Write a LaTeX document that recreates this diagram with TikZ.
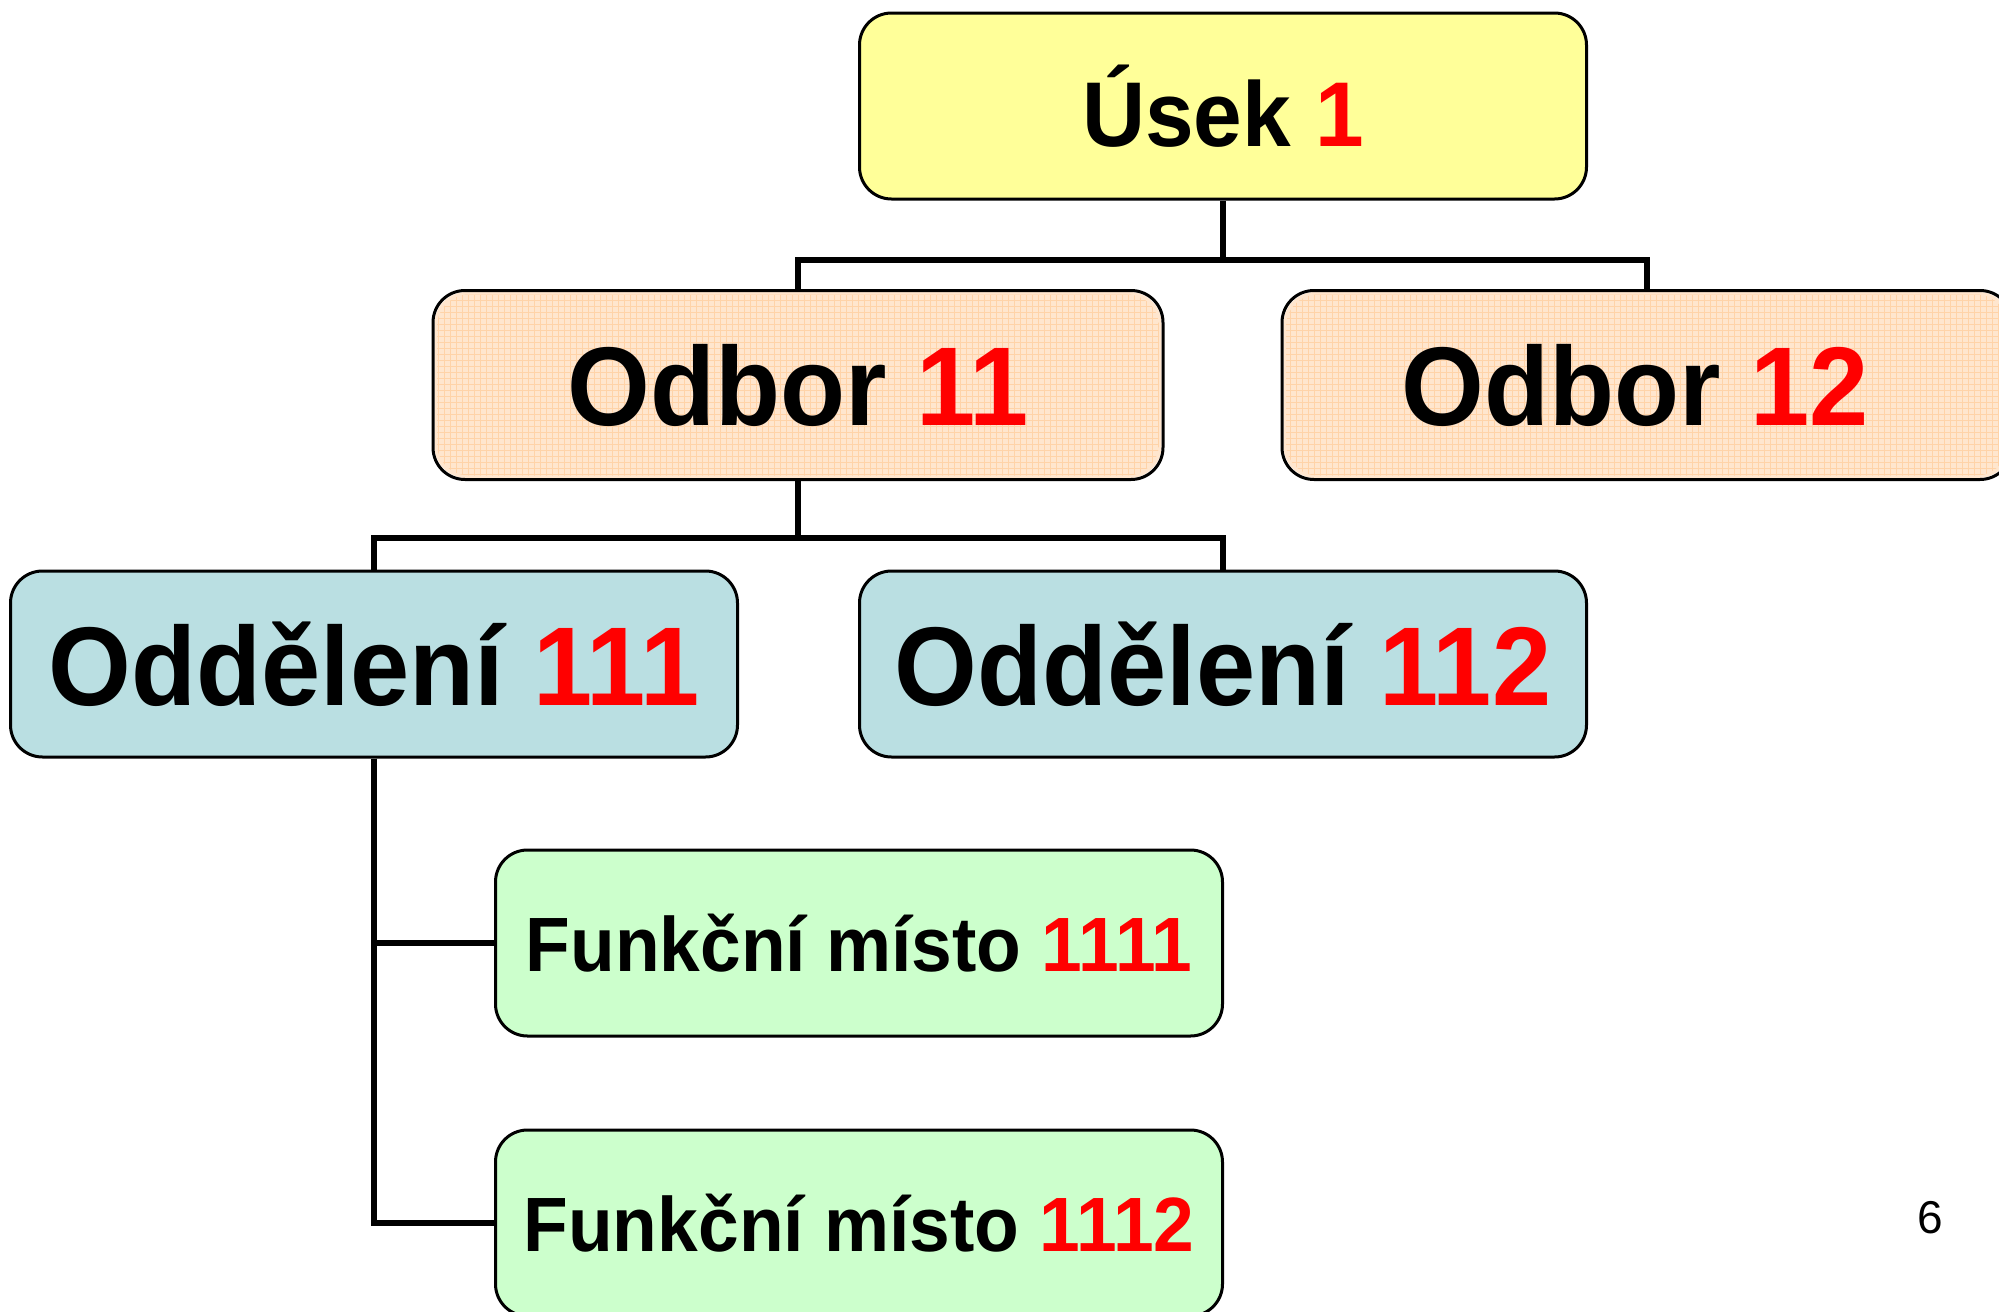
\documentclass[tikz,border=0pt]{standalone}
\usepackage{fontspec}
\setmainfont{Liberation Sans}
\newfontfamily\boxfont{Liberation Sans}[FakeStretch=0.95]
\usetikzlibrary{positioning}
\definecolor{usekfill}{HTML}{FFFF99}
\definecolor{odborfill}{HTML}{FFE6CE}
\definecolor{odborgrid}{HTML}{FFD3A8}
\definecolor{oddfill}{HTML}{BADFE2}
\definecolor{funkfill}{HTML}{CCFFCC}
\definecolor{numred}{HTML}{FF0000}
\tikzset{
  orgbox/.style={draw=black, line width=1.5pt, rounded corners=16pt,
    minimum width=363.5pt, minimum height=93pt, inner sep=0pt,
    font=\boxfont\bfseries, align=center},
  bigtext/.style={font=\boxfont\bfseries\fontsize{56pt}{60pt}\selectfont},
  usektext/.style={font=\boxfont\bfseries\fontsize{46pt}{50pt}\selectfont},
  funktext/.style={font=\boxfont\bfseries\fontsize{38.5pt}{42pt}\selectfont},
  conn/.style={draw=black, line width=2.8pt, line join=miter},
}
\newcommand{\rednum}[1]{\textcolor{numred}{#1}}
\begin{document}
\begin{tikzpicture}[x=0.5pt,y=-0.5pt]
\useasboundingbox (0,0) rectangle (1999,1312);
% boxes
\node[orgbox, usektext, fill=usekfill] (usek) at (1223,106) {Úsek \rednum{1}};
\node[orgbox, bigtext, fill=odborfill, draw=none] (odbor11) at (798,385) {\phantom{Odbor 11}};
\node[orgbox, bigtext, fill=odborfill, draw=none] (odbor12) at (1647,385) {\phantom{Odbor 12}};
% grid texture on Odbor boxes
\begin{scope}
  \clip[rounded corners=16pt] ([shift={(2pt,2pt)}]odbor11.south west) rectangle ([shift={(-2pt,-2pt)}]odbor11.north east);
  \draw[odborgrid, line width=0.4pt, step=3pt] (odbor11.south west) grid (odbor11.north east);
\end{scope}
\begin{scope}
  \clip[rounded corners=16pt] ([shift={(2pt,2pt)}]odbor12.south west) rectangle ([shift={(-2pt,-2pt)}]odbor12.north east);
  \draw[odborgrid, line width=0.4pt, step=3pt] (odbor12.south west) grid (odbor12.north east);
\end{scope}
\draw[line width=1.5pt, rounded corners=16pt] (odbor11.south west) rectangle (odbor11.north east);
\draw[line width=1.5pt, rounded corners=16pt] (odbor12.south west) rectangle (odbor12.north east);
\node[bigtext] (odbor11t) at (odbor11.center) {Odbor \rednum{11}};
\node[bigtext] (odbor12t) at ([xshift=-6pt]odbor12.center) {Odbor \rednum{12}};
\node[orgbox, bigtext, fill=oddfill] (odd111) at (374,664) {Oddělení \rednum{111}};
\node[orgbox, bigtext, fill=oddfill] (odd112) at (1223,664) {Oddělení \rednum{112}};
\node[orgbox, funktext, fill=funkfill] (f1) at (859,943) {Funkční místo \rednum{1111}};
\node[orgbox, funktext, fill=funkfill] (f2) at (859,1223) {Funkční místo \rednum{1112}};
% junctions
\coordinate (j1) at (1223,260);
\coordinate (j2) at (798,538);
% connectors
\draw[conn] (usek.south) -- (j1);
\draw[conn] (odbor11.north) |- (j1) -| (odbor12.north);
\draw[conn] (odbor11.south) -- (j2);
\draw[conn] (odd111.north) |- (j2) -| (odd112.north);
\draw[conn] (odd111.south) |- (f1.west);
\draw[conn] (odd111.south) |- (f2.west);
% page number
\node[font=\fontsize{23pt}{26pt}\selectfont] (pagenum) at (1930,1218) {6};
\end{tikzpicture}
\end{document}
